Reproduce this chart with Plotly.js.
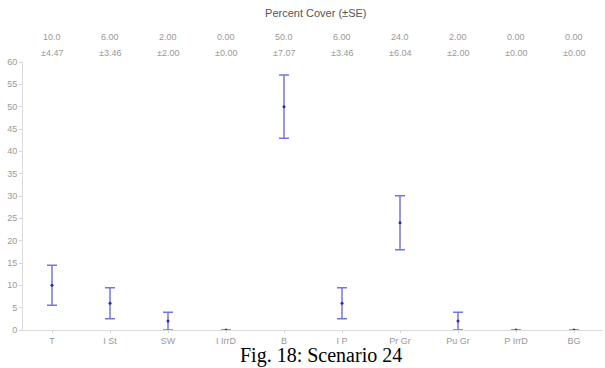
<!DOCTYPE html>
<html>
<head>
<meta charset="utf-8">
<script src="https://cdn.plot.ly/plotly-3.0.1.min.js"></script>
<style>
html,body{margin:0;padding:0;background:#fff;}
#chart{width:605px;height:368px;}
</style>
</head>
<body>
<div id="chart"></div>
<script>
var categories = ["T", "I St", "SW", "I IrrD", "B", "I P", "Pr Gr", "Pu Gr", "P IrrD", "BG"];
var means = [10.0, 6.00, 2.00, 0.00, 50.0, 6.00, 24.0, 2.00, 0.00, 0.00];
var se = [4.47, 3.46, 2.00, 0.00, 7.07, 3.46, 6.04, 2.00, 0.00, 0.00];
var meanLabels = ["10.0", "6.00", "2.00", "0.00", "50.0", "6.00", "24.0", "2.00", "0.00", "0.00"];
var seLabels = ["±4.47", "±3.46", "±2.00", "±0.00", "±7.07", "±3.46", "±6.04", "±2.00", "±0.00", "±0.00"];
var yTicks = [0, 5, 10, 15, 20, 25, 30, 35, 40, 45, 50, 55, 60];

var trace = {
  x: categories,
  y: means,
  type: "scatter",
  mode: "markers",
  marker: {color: "#2a2aa8", size: 3},
  error_y: {type: "data", array: se, visible: true, color: "rgba(70,70,225,0.75)", thickness: 1.5, width: 5},
  hoverinfo: "none"
};

var gray = "#999999";
var layout = {
  width: 605, height: 368,
  margin: {l: 23, r: 2, t: 62, b: 38, pad: 0},
  paper_bgcolor: "#fff", plot_bgcolor: "#fff",
  showlegend: false,
  font: {family: "Liberation Sans, Arial", size: 9, color: gray},
  title: {text: "Percent Cover (±SE)", x: 0.522, xanchor: "center", y: 0.965, yanchor: "middle",
    font: {family: "Liberation Sans, Arial", size: 11, color: "#555"}},
  xaxis: {
    type: "category", range: [-0.5, 9.5], showgrid: false, zeroline: false,
    showline: true, linecolor: "#dcdcdc", linewidth: 1,
    ticks: "outside", ticklen: 2, tickcolor: "#d5d5d5",
    tickfont: {family: "Liberation Sans, Arial", size: 9, color: gray}, fixedrange: true
  },
  yaxis: {
    range: [0, 60], tickvals: yTicks, showgrid: false, zeroline: false,
    showline: true, linecolor: "#dcdcdc", linewidth: 1,
    ticks: "outside", ticklen: 3, tickcolor: "#d5d5d5",
    tickfont: {family: "Liberation Sans, Arial", size: 9, color: gray}, fixedrange: true
  },
  annotations: []
};
for (var j = 0; j < categories.length; j++) {
  layout.annotations.push({x: categories[j], xref: "x", y: 1, yref: "paper", yanchor: "middle",
    yshift: 25, text: meanLabels[j], showarrow: false,
    font: {family: "Liberation Sans, Arial", size: 9, color: gray}});
  layout.annotations.push({x: categories[j], xref: "x", y: 1, yref: "paper", yanchor: "middle",
    yshift: 9, text: seLabels[j], showarrow: false,
    font: {family: "Liberation Sans, Arial", size: 9, color: gray}});
}
layout.annotations.push({x: 0.5, xref: "paper", y: 0, yref: "paper", yanchor: "bottom", xanchor: "center",
  xshift: 8, yshift: -38, borderpad: 0, text: "Fig. 18: Scenario 24", showarrow: false,
  font: {family: "Liberation Serif, Times New Roman, serif", size: 20, color: "#000"}});

Plotly.newPlot("chart", [trace], layout, {staticPlot: true, displayModeBar: false});
</script>
</body>
</html>
